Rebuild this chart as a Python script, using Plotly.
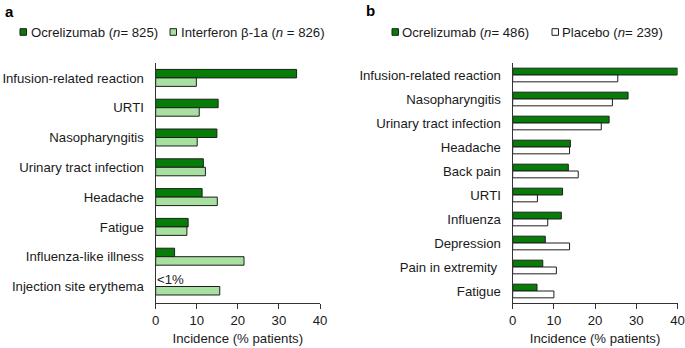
import plotly.graph_objects as go

# ---- data ----
cats_a = ["Infusion-related reaction", "URTI", "Nasopharyngitis", "Urinary tract infection",
          "Headache", "Fatigue", "Influenza-like illness", "Injection site erythema"]
ocr_a = [34.3, 15.2, 14.9, 11.6, 11.3, 7.9, 4.6, None]   # <1% for injection site erythema
ifn_a = [9.9, 10.6, 10.1, 12.1, 15.0, 7.6, 21.5, 15.6]

cats_b = ["Infusion-related reaction", "Nasopharyngitis", "Urinary tract infection", "Headache",
          "Back pain", "URTI", "Influenza", "Depression", "Pain in extremity\u00a0", "Fatigue"]
ocr_b = [40.0, 28.0, 23.4, 14.0, 13.5, 12.1, 11.8, 7.9, 7.3, 5.9]
pla_b = [25.5, 24.2, 21.5, 13.8, 15.9, 6.0, 8.5, 13.8, 10.6, 10.0]

x_ticks = [0, 10, 20, 30, 40]
legend_a = ["Ocrelizumab (<i>n</i>= 825)", "Interferon β-1a (<i>n</i> = 826)"]
legend_b = ["Ocrelizumab (<i>n</i>= 486)", "Placebo (<i>n</i>= 239)"]

# ---- style ----
W, H = 685, 348
FONT = "Arial, Liberation Sans, Helvetica, sans-serif"
FS = 13.2
DARK = "#067d06"
LIGHT = "#a8e0a2"
WHITE = "#ffffff"
EDGE = "#1e1e1e"
AX = "#333333"

def px_x(p):
    return p / W

def px_y(p):
    return 1 - p / H

fig = go.Figure()
fig.add_trace(go.Bar(y=cats_a, x=ocr_a, orientation="h", name=legend_a[0],
                     marker=dict(color=DARK, line=dict(color=EDGE, width=1)),
                     xaxis="x", yaxis="y", showlegend=False))
fig.add_trace(go.Bar(y=cats_a, x=ifn_a, orientation="h", name=legend_a[1],
                     marker=dict(color=LIGHT, line=dict(color=EDGE, width=1)),
                     xaxis="x", yaxis="y", showlegend=False))
fig.add_trace(go.Bar(y=cats_b, x=ocr_b, orientation="h", name=legend_b[0],
                     marker=dict(color=DARK, line=dict(color=EDGE, width=1)),
                     xaxis="x2", yaxis="y2", showlegend=False))
fig.add_trace(go.Bar(y=cats_b, x=pla_b, orientation="h", name=legend_b[1],
                     marker=dict(color=WHITE, line=dict(color=EDGE, width=1)),
                     xaxis="x2", yaxis="y2", showlegend=False))

xcommon = dict(range=[0, 40], tickvals=x_ticks, showgrid=False, zeroline=False,
               showline=True, linecolor=AX, linewidth=1.4, ticks="outside",
               ticklen=5, tickwidth=1.4, tickcolor=AX, automargin=False,
               tickfont=dict(family=FONT, size=FS, color="#1a1a1a"),
               title=dict(text="Incidence (% patients)", standoff=6,
                          font=dict(family=FONT, size=FS, color="#1a1a1a")),
               fixedrange=True)
ycommon = dict(type="category", autorange="reversed", showgrid=False, zeroline=False,
               showline=True, linecolor=AX, linewidth=1.4, ticks="", automargin=False,
               ticklabelstandoff=8,
               tickfont=dict(family=FONT, size=FS, color="#1a1a1a"), fixedrange=True)

ydom = [45 / H, 285 / H]
fig.update_layout(
    width=W, height=H, margin=dict(l=0, r=0, t=0, b=0),
    paper_bgcolor="white", plot_bgcolor="white",
    barmode="group", bargap=0.43, bargroupgap=0,
    font=dict(family=FONT, size=FS, color="#1a1a1a"),
    xaxis=dict(domain=[155.7 / W, 320 / W], anchor="y", **xcommon),
    yaxis=dict(domain=ydom, anchor="x", categoryarray=cats_a, **ycommon),
    xaxis2=dict(domain=[512.7 / W, 677.5 / W], anchor="y2", **xcommon),
    yaxis2=dict(domain=ydom, anchor="x2", categoryarray=cats_b, **ycommon),
)

anns = [
    dict(text="<b>a</b>", x=px_x(3), y=px_y(11), xref="paper", yref="paper",
         xanchor="left", yanchor="middle", showarrow=False,
         font=dict(family=FONT, size=15, color="black")),
    dict(text="<b>b</b>", x=px_x(364), y=px_y(10), xref="paper", yref="paper",
         xanchor="left", yanchor="middle", showarrow=False,
         font=dict(family=FONT, size=15, color="black")),
    dict(text="<1%", x=0, y=cats_a[-1], xref="x", yref="y", xanchor="left",
         yanchor="middle", yshift=7, xshift=-1, showarrow=False,
         font=dict(family=FONT, size=FS, color="#1a1a1a")),
]
shapes = []
legend_items = [
    (20, 28.5, DARK, legend_a[0]),
    (170, 178.5, LIGHT, legend_a[1]),
    (392, 400, DARK, legend_b[0]),
    (552, 560, WHITE, legend_b[1]),
]
LY = 32
for sx, tx, col, txt in legend_items:
    shapes.append(dict(type="rect", xref="paper", yref="paper",
                       x0=px_x(sx), x1=px_x(sx + 6.5), y0=px_y(LY + 3.3), y1=px_y(LY - 3.3),
                       fillcolor=col, line=dict(color=EDGE, width=1)))
    anns.append(dict(text=txt, x=px_x(tx), y=px_y(LY), xref="paper", yref="paper",
                     xanchor="left", yanchor="middle", showarrow=False,
                     font=dict(family=FONT, size=FS, color="#1a1a1a")))

fig.update_layout(annotations=anns, shapes=shapes)
fig.write_html("out.html", config={"displayModeBar": False},
               post_script="document.body.style.margin='0px';document.body.style.padding='0px';")
